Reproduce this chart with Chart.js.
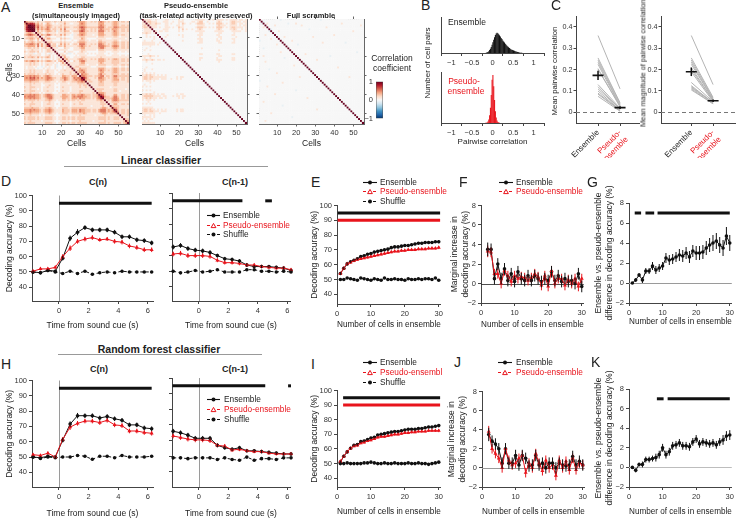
<!DOCTYPE html>
<html>
<head>
<meta charset="utf-8">
<script src="https://cdn.jsdelivr.net/npm/chart.js@4.4.1/dist/chart.umd.min.js"></script>
<style>
html, body { margin: 0; padding: 0; background: #fff; }
#fig { position: relative; width: 736px; height: 518px; overflow: hidden; font-family: "Liberation Sans", Arial, sans-serif; color: #222; }
#fig canvas { position: absolute; }
.t { position: absolute; white-space: nowrap; line-height: 1; }
.t svg { display: block; }
</style>
</head>
<body>
<div id="fig"></div>
<script>
// ---- data: correlation matrices (lower triangle, one char per cell, digit = level, '-' slightly negative)
const ensRows = ["","3","25","268","2679","15778","123321","2345432","11222121","122332131","1012210202","21223212211","233443241312","2233331413125","11221212011212","101121110101221","2112221201012211","10111-0110010-101","111211111001120101","2122321312123201011","11111111010111010121","232343231212332120232","1112121101011111010131","11121211010121101-01121","101110100-0101001-001011","1011110-00101100100010111","11121211110121110101121112","111212111101211100111111211","2122221211121211010121112122","33343433212343211111332213331","343545342323443221123432124344","3334443322234332111224321234346","22232222111222111011221112223343","111212111011111101011110111122221","1112111110011211000111111111121221","21122211101121110101211101111211211","111211101011111100011111011111111111","2112221110112111010121110111122111111","11121111010111100011111011111211111121","333434332123443211113322133233432221223","4344443321234442111233321343444332212235","33343433211234421111332213332433222121346","212222121112232110112212122121221111112232","1111211110111211000111110111121111111111221","21122211101122110101211101211221111111112221","111211111011111100011111011111111110111112111","2222322211122321101122211222222221111111233212","33343433212334321111322213332433222122134442323","333433332123343211113222133324332221221344423235","2223222211122321101122211222222321111111233212223","11121111010111110001111101111211111110111121111111","212222121112222110112212122122221111111222212112221","2122221211122221101122121221222211111112222121122211","11121111101111110001111101111211111101111121111111112","212222111112222110112212122122222111111222212112222123"];
const pseRows = ["","1","11","121","1221","01111","011110","1121101","001","0010101","0000001","01000100","1111111001","11111110100","00001","001","01001","0","0001","1111211010","01001","11211210110100","001","0000010","0","001","010001","01","1010101","1121211010101","1221221111111000001011","122121111011100100101","1011101","00001","01","10101","0","1010100","0000001","1121211010110000001011","12222211110110001011011","1121211101101000000101","1011101","0001","10101","0","1111110","1221211010101000001011","1221221110111000001011","1111111001","0100101","1111101","1010110","0101","1111111"];
const scrRows = ["","","0-","","0010","","00000-","","0001","","000000100","-","","0000000001","","00-","","000000000001","","001","0000000000000-","","0001","","0000000000000000001","","00000-","","0000000001","","0000000000000000000001","","-","0000000000001","","00001","","0000000000000000000-","","000000001","","00000000000000000000000001","","001","","000000000000-","","0000000000000000000000000000001","","0000001","","00000000000000000-","","0001",""];
const cellTicks = [10, 20, 30, 40, 50];
const cbTicks = [-1, 0, 1];

// ---- data: pairwise correlation histograms (fraction of axis height)
const hEnsX = [-0.15,-0.13,-0.11,-0.09,-0.07,-0.05,-0.03,-0.01,0.01,0.03,0.05,0.07,0.09,0.11,0.13,0.15,0.17,0.19,0.21,0.23,0.25,0.27,0.29,0.31,0.33,0.35,0.37,0.39,0.41,0.43,0.45,0.47,0.49,0.51,0.53,0.55,0.57,0.59,0.61,0.63,0.65,0.67,0.69,0.71];
const hEnsY = [0.01,0.02,0.03,0.05,0.08,0.12,0.17,0.23,0.3,0.37,0.44,0.5,0.54,0.56,0.55,0.52,0.49,0.46,0.42,0.39,0.35,0.32,0.29,0.26,0.23,0.2,0.18,0.16,0.14,0.12,0.1,0.09,0.08,0.07,0.06,0.05,0.04,0.035,0.03,0.02,0.015,0.01,0.008,0.005];
const hPseX = [-0.17,-0.15,-0.13,-0.11,-0.09,-0.07,-0.05,-0.03,-0.01,0.01,0.03,0.05,0.07,0.09,0.11,0.13,0.15,0.17];
const hPseY = [0.003,0.006,0.012,0.03,0.07,0.15,0.3,0.55,0.85,0.94,0.72,0.45,0.23,0.11,0.05,0.02,0.01,0.004];
const corrTicks = [-1, -0.5, 0, 0.5, 1];

// ---- data: panel C (one value per session)
const c1Ens = [0.36,0.255,0.245,0.235,0.225,0.205,0.2,0.13,0.12,0.11,0.1,0.09,0.085,0.075];
const c1Pse = [0.11,0.045,0.04,0.035,0.03,0.025,0.03,0.02,0.015,0.015,0.01,0.01,0.008,0.005];
const c1Mean = [0.173, 0.022], c1Sem = [0.022, 0.006];
const c2Ens = [0.36,0.255,0.245,0.235,0.225,0.21,0.2,0.19,0.14,0.125,0.12,0.115,0.11,0.105];
const c2Pse = [0.13,0.07,0.065,0.06,0.06,0.055,0.055,0.05,0.05,0.045,0.045,0.045,0.04,0.04];
const c2Mean = [0.19, 0.054], c2Sem = [0.02, 0.006];
const cLabels = ["Ensemble", ["Pseudo-", "ensemble"]];
const cTicksY = [0, 0.1, 0.2, 0.3, 0.4];

// ---- data: time courses (D, H)
const tD = [-1.75,-1.25,-0.75,-0.25,0.25,0.75,1.25,1.75,2.25,2.75,3.25,3.75,4.25,4.75,5.25,5.75,6.25];
const tTicks = [0, 2, 4, 6];
const accTicks = [40, 50, 60, 70, 80, 90, 100];
const dCnEns = [50,49.5,51,50.5,59,72,76,79,77.5,77.5,77.5,76,73,73,71,70.5,69];
const dCnEnsE = [1,1,1,1,1.5,1.8,2,1.5,1.5,1.5,1.5,1.5,1.5,1.5,1.5,1.5,1.5];
const dCnPse = [50.5,52,52,53,60,65.5,70,71.5,72.5,71,71.5,70,69.5,67,66,64.5,64.5];
const dCnPseE = [1,1,1,1,1.5,1.8,1.5,1.5,1.5,1.2,1.2,1.5,1.5,1.5,1.5,1.5,1.5];
const dCnShu = [50,49.5,51,50,49,50.5,49,50.5,48.5,49.5,50,49.5,50.5,50,50,50,50];
const dCnShuE = [0.6,0.6,0.6,0.6,0.6,0.6,0.6,0.6,0.6,0.6,0.6,0.6,0.6,0.6,0.6,0.6,0.6];
const dCpEns = [65.5,66.5,64.5,63.5,63,62,60,58,57.5,56.5,54,53,53,53,52.5,52,50.5];
const dCpEnsE = [1.5,1.5,1.5,1.5,1.5,1.5,1.2,1.2,1.2,1.2,1.2,1,1,1,1,1,1];
const dCpPse = [61,61.5,60,60,60,59.5,57,55.5,55.5,55,54,54,53,52.5,52,52,51];
const dCpPseE = [1.5,1.5,1.5,1.5,1.5,1.5,1.2,1.2,1.2,1.2,1.2,1,1,1,1,1,1];
const dCpShu = [50,49,49.5,50.5,49.5,50,51,49.5,49.5,49.5,51,51,50,50,49.5,50,49.5];
const dCpShuE = [0.6,0.6,0.6,0.6,0.6,0.6,0.6,0.6,0.6,0.6,0.6,0.6,0.6,0.6,0.6,0.6,0.6];
const dCnSig = [[0, 6.25]], dCpSig = [[-1.8, 2.95], [4.5, 4.95]];
const hCnEns = [50,49.5,50.5,50,61,71.5,77,77,77,75.5,76.5,75,74,71,71,69,68.5];
const hCnEnsE = [1,1,1,1,1.5,1.8,1.8,1.5,1.5,1.5,1.5,1.5,1.5,1.5,1.5,1.5,1.5];
const hCnPse = [51.5,51,52.5,50,61.5,69.5,72,73.5,73.5,72.5,74,71,70.5,67,67,66,65.5];
const hCnPseE = [1,1,1,1,1.5,1.8,1.5,1.5,1.5,1.5,1.5,1.5,1.5,1.5,1.5,1.5,1.5];
const hCnShu = [50,49,50,49.5,50,50,51,50.5,48.5,50.5,50.5,49.5,51,50,50,50,50.5];
const hCnShuE = [0.6,0.6,0.6,0.6,0.6,0.6,0.6,0.6,0.6,0.6,0.6,0.6,0.6,0.6,0.6,0.6,0.6];
const hCpEns = [66,65,63.5,61.5,61.5,61.5,57,55.5,54.5,55.5,53.5,53.5,53,52.5,52,51.5,51.5];
const hCpEnsE = [1.5,1.5,1.5,1.5,1.5,1.5,1.2,1.2,1.2,1.2,1,1,1,1,1,1,1];
const hCpPse = [63,62,61,60.5,60.5,60,57,56.5,54,54.5,53.5,53,53,52,51.5,51.5,51.5];
const hCpPseE = [1.5,1.5,1.5,1.5,1.5,1.5,1.2,1.2,1.2,1.2,1,1,1,1,1,1,1];
const hCpShu = [49,49,48.5,49,49,49,48,49,48,47.5,49.5,47.5,48.5,48.5,48,49,49];
const hCpShuE = [0.6,0.6,0.6,0.6,0.6,0.6,0.6,0.6,0.6,0.6,0.6,0.6,0.6,0.6,0.6,0.6,0.6];
const hCnSig = [[0, 6.25]], hCpSig = [[-1.8, 4.5], [6.05, 6.25]];

// ---- data: ensemble size (E, F, G, I, J, K)
const nCells = [1,2,3,4,5,6,7,8,9,10,11,12,13,14,15,16,17,18,19,20,21,22,23,24,25,26,27,28,29,30];
const nMarg = [2,3,4,5,6,7,8,9,10,11,12,13,14,15,16,17,18,19,20,21,22,23,24,25,26,27,28,29,30];
const nTicks = [0, 10, 20, 30];
const difTicks = [-2, 0, 2, 4, 6, 8];
const eEns = [54,57.5,60.5,62,63,64,65.5,66,67,67.5,68.5,69,69.5,70,70.5,71.5,72,72,72.5,73,73,73.5,74,74.5,74.5,75,75,75,75.5,75.5];
const ePse = [54,57.5,60.5,61.5,62.5,63.5,64,64.5,65,65.5,66,66.5,67,67.5,68,68.5,69,69,69.5,69.5,70,70,70,70.5,70.5,70.5,71,71,71,71.5];
const eShu = [50,50,51,50.5,50,49.5,51,50.5,50,49.5,50.5,50,49.5,51,50,50,50.5,50,50,49.5,50.5,50,50,50.5,50,50.5,50.5,50,51,49.5];
const eErr = [1,0.9,0.9,0.8,0.8,0.8,0.8,0.8,0.8,0.8,0.8,0.8,0.8,0.8,0.8,0.8,0.8,0.8,0.8,0.8,0.8,0.8,0.8,0.8,0.8,0.8,0.8,0.8,0.8,1];
const eShuE = [0.4,0.4,0.4,0.4,0.4,0.4,0.4,0.4,0.4,0.4,0.4,0.4,0.4,0.4,0.4,0.4,0.4,0.4,0.4,0.4,0.4,0.4,0.4,0.4,0.4,0.4,0.4,0.4,0.4,0.4];
const eSig = [[0.2, 30.4]];
const fEns = [3.5,3.5,0.5,2,0.5,1.5,0.3,1,0.2,1.2,0.5,0.3,0.8,0.3,0.8,0.5,0.2,0.5,0.3,1.2,0.3,0.8,0.2,0.5,0.2,0.3,0,1,-0.3];
const fPse = [3.3,3.2,1,1,0,1.3,0.8,0.2,0.8,0.5,0.7,0.6,0.3,0.6,1,0.7,-0.2,0.8,-0.3,1.3,0,0.5,0.5,-0.2,0.4,0,0.5,-0.3,0.5];
const fEnsE = [0.7,0.6,0.6,0.6,0.6,0.6,0.6,0.6,0.6,0.6,0.6,0.6,0.6,0.6,0.6,0.6,0.6,0.6,0.6,0.6,0.6,0.6,0.6,0.6,0.6,0.6,0.6,0.6,0.6];
const fPseE = [0.6,0.5,0.5,0.5,0.5,0.5,0.5,0.5,0.5,0.5,0.5,0.5,0.5,0.5,0.5,0.5,0.5,0.5,0.5,0.5,0.5,0.5,0.5,0.5,0.5,0.5,0.5,0.5,0.5];
const gDif = [0,0.3,0.8,0.3,1.2,1.2,1.7,1.3,1.5,1.7,2.5,2.3,2.4,2.6,2.8,2.7,3,2.6,3.2,3,3,3.1,3.5,3.8,4,4.2,3.8,3.5,4.7,4];
const gErr = [0.1,0.2,0.2,0.3,0.3,0.3,0.4,0.4,0.4,0.4,0.5,0.5,0.5,0.5,0.6,0.6,0.6,0.6,0.6,0.7,0.7,0.7,0.7,0.7,0.8,0.8,0.8,0.8,0.9,0.8];
const gSig = [[1.7, 3.6], [4.9, 7.5], [8.5, 30]];
const iEns = [51,55,58,60.5,62.5,63,65,65.5,66.5,67.5,68,69.5,70,70.5,71,71.5,72,72,72.5,73,73.5,73.5,73.5,74,74,74.5,75,75,75.5,76];
const iPse = [51.5,55,58,60.5,62,62.5,64,64.5,65.5,66,67,68,68.5,68.5,69,69.5,70,70,70.5,71,71,71.5,71.5,72,72,72,72.5,72.5,72.5,72.5];
const iShu = [50,50,50.5,50,50,50,50,50.5,50.5,51,50.5,50,50,50.5,50,50,50.5,50,50,50,50.5,50,50,50.5,50,50,49.5,50,50.5,51];
const iSig = [[1.8, 30.4]];
const jEns = [3.5,2.8,2.5,2,0.5,2,0.5,0.5,1.3,0.3,1.3,1,0.2,0.3,1.3,0.3,0.5,0,0.5,0.5,0,0.5,0.3,0.2,0.3,1.2,0.3,0.7,0.3];
const jPse = [3.8,2,1.5,1,0,2,0.8,0.3,0.5,1,1.3,-0.5,0.5,0,1.5,0.5,-0.3,0.8,0,0.3,-0.8,0.8,0,0.7,-0.2,1,-0.2,0.5,0.3];
const kDif = [0,-0.3,0.3,0.3,0.8,0.8,0.9,1,1.3,2,1.3,1.6,2.2,2.3,2.5,2.2,2.2,2.1,2.6,2.9,2.4,2.6,2.5,2.4,2.5,2.3,2.6,2.8,3.2,3.3];
const kErr = [0.1,0.2,0.2,0.3,0.3,0.3,0.3,0.4,0.4,0.4,0.4,0.4,0.4,0.4,0.4,0.4,0.4,0.4,0.4,0.4,0.4,0.4,0.4,0.4,0.4,0.4,0.4,0.5,0.5,0.5];
const kSig = [[8.3, 10.3], [11.5, 30]];

// ---- setup
Chart.defaults.font.family = '"Liberation Sans", Arial, sans-serif';
Chart.defaults.color = '#333';
Chart.defaults.plugins.legend.display = false;
Chart.defaults.plugins.tooltip.enabled = false;

const RED = '#e8141c', BLK = '#111', AX = '#444', FR = '#666';
const fig = document.getElementById('fig');
const fmt = v => String(v).replace('-', '\u2212');

function txt(s, x, y, o = {}) {
  const d = document.createElement('div');
  d.className = 't';
  d.textContent = s;
  d.style.left = x + 'px';
  d.style.top = y + 'px';
  d.style.fontSize = (o.size || 8.5) + 'px';
  if (o.bold) d.style.fontWeight = 'bold';
  if (o.color) d.style.color = o.color;
  const ax = o.align === 'left' ? '0' : '-50%';
  d.style.transform = `translate(${ax},-50%)` + (o.rot ? ` rotate(${o.rot}deg)` : '');
  fig.appendChild(d);
}

function hline(x, y, w) {
  const d = document.createElement('div');
  d.className = 't';
  Object.assign(d.style, {left: x + 'px', top: y + 'px', width: w + 'px', borderTop: '1px solid #999'});
  fig.appendChild(d);
}

function legRow(x1, x2, tx, y, kind, label) {
  const w = x2 - x1, col = kind === 'pse' ? RED : BLK;
  const dash = kind === 'ens' ? '' : 'stroke-dasharray="3,2"';
  const m = kind === 'pse'
    ? `<polygon points="${w/2-2.4},5.6 ${w/2+2.4},5.6 ${w/2},1.4" fill="#fff" stroke="${RED}" stroke-width="1"/>`
    : `<circle cx="${w/2}" cy="3.5" r="2" fill="${BLK}"/>`;
  const d = document.createElement('div');
  d.className = 't';
  d.style.left = x1 + 'px';
  d.style.top = (y - 3.5) + 'px';
  d.innerHTML = `<svg width="${w}" height="7"><line x1="0" y1="3.5" x2="${w}" y2="3.5" stroke="${col}" stroke-width="1.1" ${dash}/>${m}</svg>`;
  fig.appendChild(d);
  txt(label, tx, y, {align: 'left', size: 8.3, color: kind === 'pse' ? RED : '#222'});
}

// canvas placed so that the plot area lands on L,T,R,B
function mkChart(p, cfg) {
  const x = Math.round(p.L - p.yw), y = Math.round(p.T - p.pt);
  const w = Math.round(p.R + p.pr) - x, h = Math.round(p.B + p.xh) - y;
  const c = document.createElement('canvas');
  c.width = w; c.height = h;
  Object.assign(c.style, {left: x + 'px', top: y + 'px', width: w + 'px', height: h + 'px'});
  fig.appendChild(c);
  cfg.options = Object.assign({
    responsive: false, animation: false, events: [], devicePixelRatio: 1,
    layout: {autoPadding: false, padding: {top: p.pt - (p.topAx || 0), right: p.pr - (p.rightAx || 0), bottom: p.pb || 0, left: 0}}
  }, cfg.options);
  return new Chart(c, cfg);
}

function lin(o) {
  const horiz = o.pos === 'bottom' || o.pos === 'top';
  const tl = o.tl ?? 3;
  return {
    type: 'linear', position: o.pos, min: o.min, max: o.max, reverse: !!o.rev,
    afterFit: s => { if (horiz) s.height = o.size; else s.width = o.size; },
    afterBuildTicks: s => { s.ticks = o.ticks.map(v => ({value: v})); },
    ticks: Object.assign({display: o.labels !== false, font: {size: o.fs || 7.5}, color: '#333', padding: o.pad ?? 2,
      autoSkip: false, maxRotation: 0, callback: o.fmt || (v => fmt(v))}, o.tk || {}),
    grid: {display: tl > 0, drawOnChartArea: false, drawTicks: true, tickLength: tl, tickColor: o.bc || AX, color: o.bc || AX},
    border: {display: o.border !== false, color: o.bc || AX, width: 1},
    title: {display: !!o.title, text: o.title || '', font: {size: o.tfs || 8.5, lineHeight: 1.2}, padding: 0, color: '#222'}
  };
}

const errBars = {
  id: 'errBars',
  afterDatasetsDraw(chart) {
    const ctx = chart.ctx;
    chart.data.datasets.forEach((ds, i) => {
      if (!ds.err) return;
      const meta = chart.getDatasetMeta(i);
      const xs = chart.scales[meta.xAxisID], ys = chart.scales[meta.yAxisID];
      ctx.save();
      ctx.strokeStyle = ds.errColor || ds.borderColor;
      ctx.lineWidth = ds.errWidth || 1;
      ds.data.forEach((pt, j) => {
        const e = ds.err[j];
        if (e == null) return;
        const x = xs.getPixelForValue(pt.x);
        ctx.beginPath();
        ctx.moveTo(x, ys.getPixelForValue(pt.y - e));
        ctx.lineTo(x, ys.getPixelForValue(pt.y + e));
        ctx.stroke();
      });
      ctx.restore();
    });
  }
};

function refs(spec) {
  return {
    id: 'refs',
    beforeDatasetsDraw(chart) {
      const {ctx, chartArea: a} = chart, xs = chart.scales.x, ys = chart.scales.y;
      ctx.save();
      (spec.h || []).forEach(r => {
        const y = Math.round(ys.getPixelForValue(r.y)) + 0.5;
        ctx.strokeStyle = r.c; ctx.lineWidth = r.w || 1; ctx.setLineDash(r.dash || []);
        ctx.beginPath(); ctx.moveTo(a.left, y); ctx.lineTo(a.right, y); ctx.stroke();
      });
      (spec.v || []).forEach(r => {
        const x = Math.round(xs.getPixelForValue(r.x)) + 0.5;
        ctx.strokeStyle = r.c; ctx.lineWidth = r.w || 1; ctx.setLineDash([]);
        ctx.beginPath(); ctx.moveTo(x, a.top); ctx.lineTo(x, a.bottom); ctx.stroke();
      });
      (spec.bars || []).forEach(r => {
        ctx.strokeStyle = r.c; ctx.lineWidth = r.w || 3; ctx.setLineDash([]);
        const y = ys.getPixelForValue(r.y);
        r.segs.forEach(([x1, x2]) => {
          ctx.beginPath(); ctx.moveTo(xs.getPixelForValue(x1), y); ctx.lineTo(xs.getPixelForValue(x2), y); ctx.stroke();
        });
      });
      ctx.restore();
    }
  };
}

// RdBu_r colour map
const CMAP = [[-1,[5,48,97]],[-0.8,[33,102,172]],[-0.6,[67,147,195]],[-0.4,[146,197,222]],[-0.2,[209,229,240]],[0,[247,247,247]],[0.2,[253,219,199]],[0.4,[244,165,130]],[0.6,[214,96,77]],[0.8,[178,24,43]],[1,[103,0,31]]];
function cmap(v) {
  for (let k = 1; k < CMAP.length; k++) {
    if (v <= CMAP[k][0]) {
      const [v0, a] = CMAP[k - 1], [v1, b] = CMAP[k];
      const f = (v - v0) / (v1 - v0);
      return `rgb(${a.map((c, i) => Math.round(c + (b[i] - c) * f)).join(',')})`;
    }
  }
  return 'rgb(103,0,31)';
}
// one level step = 0.13 correlation
function lvl(ch) {
  if (ch === '-') return -0.08;
  const d = parseInt(ch, 10);
  return isNaN(d) ? 0 : d * 0.13;
}

// ---- A: heatmaps
const N = 55;
function heatPanel(p, rows, showY) {
  const pts = [];
  for (let i = 0; i < N; i++) for (let j = 0; j <= i; j++) {
    const v = i === j ? 1 : lvl((rows[i] || '')[j]);
    pts.push({x: j + 1, y: i + 1, v});
    if (j < i) pts.push({x: i + 1, y: j + 1, v});
  }
  mkChart(p, {
    type: 'scatter',
    data: {datasets: [{
      data: pts, pointStyle: 'rect', borderWidth: 0, pointBorderWidth: 0, clip: 0,
      pointRadius: c => { const a = c.chart.chartArea; return a ? (a.width / N + 0.4) / Math.SQRT2 : 1; },
      backgroundColor: c => cmap(c.raw ? c.raw.v : 0)
    }]},
    options: {scales: {
      x: lin({pos: 'bottom', min: 0.5, max: 55.5, ticks: cellTicks, size: p.xh, title: 'Cells', tl: 2.5, bc: FR}),
      y: lin({pos: 'left', min: 0.5, max: 55.5, rev: true, ticks: cellTicks, size: p.yw, title: showY ? 'Cells' : '', labels: showY, tl: 2.5, bc: FR, pad: 1.5}),
      x2: lin({pos: 'top', min: 0.5, max: 55.5, ticks: cellTicks, size: 3, labels: false, tl: 2.5, bc: FR}),
      y2: lin({pos: 'right', min: 0.5, max: 55.5, rev: true, ticks: cellTicks, size: 3, labels: false, tl: 2.5, bc: FR})
    }}
  });
}
heatPanel({L: 24, T: 19, R: 129, B: 124, yw: 19, xh: 25, pt: 4, pr: 4, topAx: 3, rightAx: 3}, ensRows, true);
heatPanel({L: 142, T: 19, R: 247, B: 124, yw: 4, xh: 25, pt: 4, pr: 4, topAx: 3, rightAx: 3}, pseRows, false);
heatPanel({L: 259, T: 19, R: 364, B: 124, yw: 4, xh: 25, pt: 4, pr: 4, topAx: 3, rightAx: 3}, scrRows, false);

// colour bar
mkChart({L: 376, T: 77, R: 383, B: 123, yw: 12, xh: 3, pt: 3, pr: 2, pb: 3}, {
  type: 'bar',
  data: {labels: [''], datasets: [{
    data: [[cbTicks[0], cbTicks[2]]], barPercentage: 1, categoryPercentage: 1,
    borderWidth: 0.8, borderColor: '#555', borderSkipped: false,
    backgroundColor: c => {
      const a = c.chart.chartArea;
      if (!a) return '#fff';
      const g = c.chart.ctx.createLinearGradient(0, a.bottom, 0, a.top);
      CMAP.forEach(([v, rgb]) => g.addColorStop((v + 1) / 2, `rgb(${rgb.join(',')})`));
      return g;
    }
  }]},
  options: {scales: {
    x: {display: false},
    y: lin({pos: 'left', min: -1, max: 1, ticks: cbTicks, size: 12, tl: 0, pad: 3, border: false})
  }}
});

// ---- B: histograms
function histPanel(p, xs, ys, color, title, withTitle) {
  mkChart(p, {
    type: 'bar',
    data: {datasets: [{data: xs.map((x, i) => ({x, y: ys[i]})), backgroundColor: color, borderWidth: 0, barPercentage: 1.3, categoryPercentage: 1, grouped: false}]},
    options: {scales: {
      x: lin({pos: 'bottom', min: -1, max: 1, ticks: corrTicks, size: p.xh, title: withTitle ? title : '', tfs: 8}),
      y: lin({pos: 'left', min: 0, max: 1, ticks: [0], size: p.yw, labels: false, tl: 0})
    }}
  });
}
histPanel({L: 441, T: 17, R: 544, B: 53, yw: 8, xh: 14, pt: 3, pr: 8}, hEnsX, hEnsY, BLK, '', false);
histPanel({L: 441, T: 72, R: 544, B: 123, yw: 8, xh: 24, pt: 3, pr: 8}, hPseX, hPseY, RED, 'Pairwise correlation', true);

// ---- C: paired session values
function pairPanel(p, ens, pse, mean, sem, xmin, xmax) {
  const ds = ens.map((e, i) => ({data: [{x: 1, y: e}, {x: 2, y: pse[i]}], borderColor: '#b4b4b4', borderWidth: 1, pointRadius: 0, order: 2}));
  ds.push({data: [{x: 1, y: mean[0]}, {x: 2, y: mean[1]}], err: sem, errWidth: 1.5, errColor: BLK, showLine: false,
    pointStyle: 'line', pointRadius: 5.5, pointBorderColor: BLK, pointBorderWidth: 1.6, borderColor: BLK, order: 0});
  mkChart(p, {
    type: 'line',
    data: {datasets: ds},
    options: {scales: {
      x: lin({pos: 'bottom', min: xmin, max: xmax, ticks: [1, 2], size: p.xh, fs: 8,
        fmt: (v, i) => cLabels[i], tk: {minRotation: 45, maxRotation: 45, color: c => c.index === 1 ? RED : '#222'}}),
      y: lin({pos: 'left', min: -0.05, max: 0.45, ticks: cTicksY, size: p.yw, pad: 1, tl: 2.5, fs: 7.2})
    }},
    plugins: [errBars, refs({h: [{y: 0, c: '#777', w: 1.2, dash: [4, 3]}]})]
  });
}
pairPanel({L: 576, T: 15, R: 639, B: 123, yw: 18, xh: 35, pt: 4, pr: 3}, c1Ens, c1Pse, c1Mean, c1Sem, 0, 2.86);
pairPanel({L: 661, T: 15, R: 736, B: 123, yw: 16, xh: 35, pt: 4, pr: 0}, c2Ens, c2Pse, c2Mean, c2Sem, -0.39, 3.05);

// ---- series helpers
function ser(xs, ys, err, kind) {
  const base = {data: xs.map((x, i) => ({x, y: ys[i]})), err, borderWidth: 1, tension: 0, clip: 6, pointBorderWidth: 0};
  if (kind === 'pse') return Object.assign(base, {borderColor: RED, pointBackgroundColor: RED, pointStyle: 'triangle', pointRadius: 2.3, order: 0});
  if (kind === 'shu') return Object.assign(base, {borderColor: BLK, borderDash: [3, 2.5], pointBackgroundColor: BLK, pointRadius: 1.8, order: 2});
  return Object.assign(base, {borderColor: BLK, pointBackgroundColor: BLK, pointRadius: 1.8, order: 1});
}

function timePanel(p, sets, sig, first) {
  mkChart(p, {
    type: 'line',
    data: {datasets: sets},
    options: {scales: {
      x: lin({pos: 'bottom', min: p.xmin, max: p.xmax, ticks: tTicks, size: p.xh, title: 'Time from sound cue (s)'}),
      y: lin({pos: 'left', min: p.ymin, max: 100, ticks: accTicks, size: p.yw, labels: first, title: first ? 'Decoding accuracy (%)' : ''})
    }},
    plugins: [errBars, refs({v: [{x: 0, c: '#9a9a9a'}], bars: [{y: 95, c: BLK, w: 3, segs: sig}]})]
  });
}

function sizePanel(p, sets, spec, yTicks, title) {
  mkChart(p, {
    type: 'line',
    data: {datasets: sets},
    options: {scales: {
      x: lin({pos: 'bottom', min: 0, max: 30.6, ticks: nTicks, size: p.xh, title: 'Number of cells in ensemble'}),
      y: lin({pos: 'left', min: p.ymin, max: p.ymax, ticks: yTicks, size: p.yw, title})
    }},
    plugins: [errBars, refs(spec)]
  });
}

// ---- D
timePanel({L: 32, T: 193, R: 153, B: 301, yw: 27, xh: 30, pt: 4, pr: 4, xmin: -1.82, xmax: 6.34, ymin: 31},
  [ser(tD, dCnPse, dCnPseE, 'pse'), ser(tD, dCnEns, dCnEnsE, 'ens'), ser(tD, dCnShu, dCnShuE, 'shu')], dCnSig, true);
timePanel({L: 172, T: 193, R: 290, B: 301, yw: 4, xh: 30, pt: 4, pr: 4, xmin: -1.83, xmax: 6.18, ymin: 31},
  [ser(tD, dCpPse, dCpPseE, 'pse'), ser(tD, dCpEns, dCpEnsE, 'ens'), ser(tD, dCpShu, dCpShuE, 'shu')], dCpSig, false);

// ---- E, F, G
sizePanel({L: 337, T: 203, R: 441, B: 304, yw: 27, xh: 26, pt: 4, pr: 4, ymin: 33.4, ymax: 100},
  [ser(nCells, ePse, eErr, 'pse'), ser(nCells, eEns, eErr, 'ens'), ser(nCells, eShu, eShuE, 'shu')],
  {bars: [{y: 95, c: BLK, w: 3, segs: eSig}, {y: 90, c: RED, w: 3, segs: eSig}]}, accTicks, 'Decoding accuracy (%)');
sizePanel({L: 481, T: 203, R: 584, B: 303, yw: 31, xh: 27, pt: 4, pr: 4, ymin: -2, ymax: 8},
  [ser(nMarg, fPse, fPseE, 'pse'), ser(nMarg, fEns, fEnsE, 'ens')],
  {h: [{y: 0, c: '#222', w: 0.8}]}, difTicks, ['Marginal increase in', 'decoding accuracy (%)']);
sizePanel({L: 629, T: 203, R: 733, B: 303, yw: 35, xh: 24, pt: 25, pr: 3, ymin: -2, ymax: 8},
  [ser(nCells, gDif, gErr, 'ens')],
  {h: [{y: 0, c: '#9a9a9a', w: 1}], bars: [{y: 7, c: BLK, w: 3, segs: gSig}]}, difTicks,
  ['Ensemble vs. pseudo-ensemble', 'difference in decoding accuracy (%)']);

// ---- H
timePanel({L: 32, T: 378, R: 153, B: 487, yw: 27, xh: 32, pt: 4, pr: 4, xmin: -1.82, xmax: 6.34, ymin: 30.4},
  [ser(tD, hCnPse, hCnPseE, 'pse'), ser(tD, hCnEns, hCnEnsE, 'ens'), ser(tD, hCnShu, hCnShuE, 'shu')], hCnSig, true);
timePanel({L: 172, T: 378, R: 290, B: 487, yw: 4, xh: 32, pt: 4, pr: 4, xmin: -1.83, xmax: 6.18, ymin: 30.4},
  [ser(tD, hCpPse, hCpPseE, 'pse'), ser(tD, hCpEns, hCpEnsE, 'ens'), ser(tD, hCpShu, hCpShuE, 'shu')], hCpSig, false);

// ---- I, J, K
sizePanel({L: 337, T: 388, R: 441, B: 487, yw: 27, xh: 30, pt: 4, pr: 4, ymin: 34, ymax: 100},
  [ser(nCells, iPse, eErr, 'pse'), ser(nCells, iEns, eErr, 'ens'), ser(nCells, iShu, eShuE, 'shu')],
  {bars: [{y: 95, c: BLK, w: 3, segs: iSig}, {y: 90, c: RED, w: 3, segs: iSig}]}, accTicks, 'Decoding accuracy (%)');
sizePanel({L: 482, T: 389, R: 585, B: 487, yw: 35, xh: 30, pt: 4, pr: 4, ymin: -2, ymax: 8},
  [ser(nMarg, jPse, fPseE, 'pse'), ser(nMarg, jEns, fEnsE, 'ens')],
  {h: [{y: 0, c: '#9a9a9a', w: 1}]}, difTicks, ['Marginal increase in', 'decoding accuracy (%)']);
sizePanel({L: 629, T: 389, R: 733, B: 487, yw: 35, xh: 30, pt: 25, pr: 3, ymin: -2, ymax: 8},
  [ser(nCells, kDif, kErr, 'ens')],
  {h: [{y: 0, c: '#bdbdbd', w: 1}], bars: [{y: 7, c: BLK, w: 3, segs: kSig}]}, difTicks,
  ['Ensemble vs. pseudo-ensemble', 'difference in decoding accuracy (%)']);

// ---- text
txt('A', 1, 7, {size: 14, align: 'left'});
txt('B', 421, 5, {size: 14, align: 'left'});
txt('C', 551, 5, {size: 14, align: 'left'});
txt('D', 1, 181, {size: 14, align: 'left'});
txt('E', 311, 182, {size: 14, align: 'left'});
txt('F', 459, 182, {size: 14, align: 'left'});
txt('G', 587, 182, {size: 14, align: 'left'});
txt('H', 1, 364, {size: 14, align: 'left'});
txt('I', 311, 364, {size: 14, align: 'left'});
txt('J', 454, 362, {size: 14, align: 'left'});
txt('K', 591, 362, {size: 14, align: 'left'});

txt('Ensemble', 76, 6, {size: 7.5, bold: true});
txt('(simultaneously imaged)', 76, 16, {size: 7.5, bold: true});
txt('Pseudo-ensemble', 196, 6, {size: 7.5, bold: true});
txt('(task-related activity preserved)', 196, 16, {size: 7.5, bold: true});
txt('Full scramble', 311, 16, {size: 7.5, bold: true});
txt('Correlation', 392, 58, {size: 8.5});
txt('coefficient', 392, 68, {size: 8.5});

txt('Ensemble', 467, 22, {size: 8.5});
txt('Pseudo-', 464, 81, {size: 8.5, color: RED});
txt('ensemble', 466, 91, {size: 8.5, color: RED});
txt('Number of cell pairs', 428, 63, {size: 8, rot: -90});

txt('Mean pairwise correlation', 555, 71, {size: 7.8, rot: -90});
txt('Mean magnitude of pairwise correlation', 643, 63, {size: 7.3, rot: -90});

txt('Linear classifier', 161, 160, {size: 10.5, bold: true});
hline(64, 166, 204);
txt('C(n)', 98, 182, {size: 9, bold: true});
txt('C(n-1)', 235, 182, {size: 9, bold: true});
txt('Random forest classifier', 159, 349, {size: 10.5, bold: true});
hline(58, 354, 204);
txt('C(n)', 99, 369, {size: 9, bold: true});
txt('C(n-1)', 235, 369, {size: 9, bold: true});

legRow(207, 220, 223, 215, 'ens', 'Ensemble');
legRow(207, 220, 223, 225, 'pse', 'Pseudo-ensemble');
legRow(207, 220, 223, 234, 'shu', 'Shuffle');
legRow(363, 377, 380, 182, 'ens', 'Ensemble');
legRow(363, 377, 380, 191, 'pse', 'Pseudo-ensemble');
legRow(363, 377, 380, 201, 'shu', 'Shuffle');
legRow(499, 513, 516, 182, 'ens', 'Ensemble');
legRow(499, 513, 516, 191, 'pse', 'Pseudo-ensemble');
legRow(207, 220, 224, 399, 'ens', 'Ensemble');
legRow(207, 220, 224, 409, 'pse', 'Pseudo-ensemble');
legRow(207, 220, 224, 419, 'shu', 'Shuffle');
legRow(363, 377, 380, 362, 'ens', 'Ensemble');
legRow(363, 377, 380, 372, 'pse', 'Pseudo-ensembl');
legRow(363, 377, 380, 382, 'shu', 'Shuffle');
legRow(498, 512, 516, 362, 'ens', 'Ensemble');
legRow(498, 512, 516, 372, 'pse', 'Pseudo-ensemble');
</script>
</body>
</html>
